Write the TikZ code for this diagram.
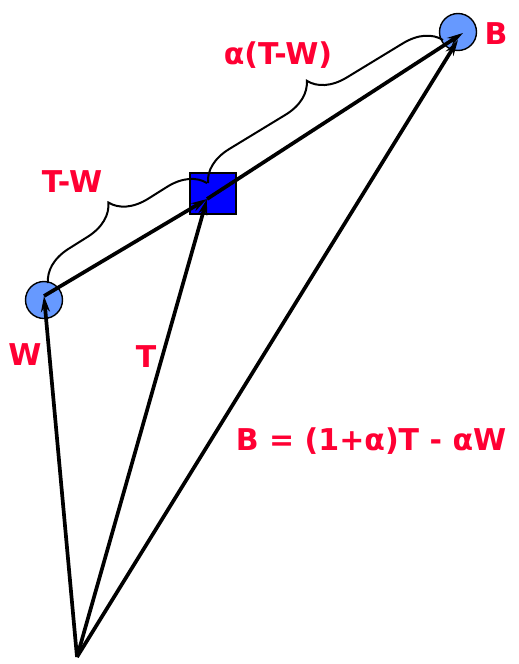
\documentclass[tikz,border=0pt]{standalone}
\usepackage{fontspec}
\setmainfont{DejaVu Sans}
\usetikzlibrary{arrows.meta,decorations.pathreplacing}
\definecolor{lbl}{RGB}{255,0,51}
\definecolor{ptc}{RGB}{102,153,255}
\begin{document}
\begin{tikzpicture}[x=1pt,y=-1pt,
 vec/.style={line width=3.7pt,-{Stealth[length=16pt,width=9pt]}},
 lab/.style={text=lbl,font=\fontsize{30}{32}\selectfont\bfseries,inner sep=0},
 dot/.style={circle,draw,line width=1.4pt,fill=ptc,minimum size=37pt,inner sep=0},
 brc/.style={decorate,decoration={brace,amplitude=36pt},line width=2pt}]
\useasboundingbox (0,0) rectangle (519,664);
\node[dot] (W) at (44,300) {};
\node[dot] (B) at (458,32) {};
\node[draw,fill=blue,line width=1.4pt,minimum width=46pt,minimum height=41pt,inner sep=0] (S) at (213,193.5) {};
\coordinate (O) at (77,657);
\coordinate (w) at (44,296);
\coordinate (t) at (207,199);
\coordinate (b) at (463,33);
\coordinate (b2) at (458,40);
\coordinate (wb1) at (48,283);
\coordinate (wb2) at (207,183);
\coordinate (bb1) at (208,183);
\coordinate (bb2) at (443,40);
\draw[vec] (O) -- (w);
\draw[vec] (O) -- (t);
\draw[vec] (w) -- (t);
\draw[vec] (t) -- (b);
\draw[vec] (O) -- (b2);
\draw[brc] (wb1) -- (wb2);
\draw[brc] (bb1) -- (bb2);
\node[lab] (lTW) at (72,182) {T-W};
\node[lab] (laTW) at (278,55) {α(T-W)};
\node[lab] (lB) at (496,34) {B};
\node[lab] (lW) at (25,355) {W};
\node[lab] (lT) at (146,357) {T};
\node[lab] (lEq) at (371,441) {B = (1+α)T - αW};
\end{tikzpicture}
\end{document}
